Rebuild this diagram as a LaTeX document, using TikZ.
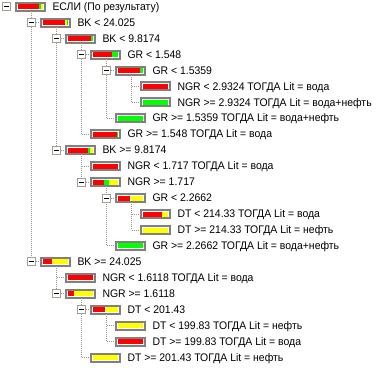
\documentclass[tikz,border=0pt]{standalone}
\usepackage{fontspec}
\setmainfont[FakeStretch=0.95]{Liberation Sans}
\definecolor{frame}{RGB}{128,128,128}
\definecolor{btnframe}{RGB}{160,160,152}
\definecolor{dots}{RGB}{150,150,150}
\definecolor{bred}{RGB}{255,0,0}
\definecolor{bgreen}{RGB}{0,255,0}
\definecolor{byellow}{RGB}{255,255,0}
\tikzset{
  barbox/.style={draw=frame, line width=2pt, fill=white, minimum width=29pt, minimum height=8pt, inner sep=0pt, outer sep=0pt},
  lbl/.style={anchor=base west, inner sep=0pt, outer sep=0pt, font=\fontsize{11}{13}\selectfont},
  btn/.style={draw=btnframe, line width=1pt, fill=white, minimum size=8pt, inner sep=0pt, outer sep=0pt},
  conn/.style={draw=dots, line width=1pt, dash pattern=on 1pt off 1pt},
  minusline/.style={draw=black, line width=1pt}
}
\newcommand\mkrow[5]{%
  \pgfmathsetmacro\ry{6.7+(#3-1)*15.95}%
  \pgfmathsetmacro\bxx{6.7+25*#2}%
  \pgfmathsetmacro\boxx{15+25*#2+15.5}%
  \pgfmathsetmacro\tx{52.5+25*#2}%
  \pgfmathsetmacro\ty{\ry+3.6}%
  \coordinate (c#1) at (\bxx,\ry);
  \node[barbox] (r#1) at (\boxx,\ry) {};
  \foreach \sc/\sa/\sb in {#5} {\fill[\sc] ([shift={(-12.5+\sa,-2.5)}]r#1.center) rectangle ([shift={(-12.5+\sb,2.5)}]r#1.center);}
  \node[lbl] (t#1) at (\tx,\ty) {#4};
}
\newcommand\mkbtn[1]{%
  \node[btn] (b#1) at (c#1) {};
  \draw[minusline] ([xshift=-2.5pt]b#1.center) -- ([xshift=2.5pt]b#1.center);
}
\newcommand\treevline[3]{\draw[conn] (r#1.south -| c#2) -- (c#3);}
\newcommand\hstub[1]{\draw[conn] (c#1) -- (r#1.west);}
\begin{document}
\begin{tikzpicture}[x=1pt,y=-1pt]
\useasboundingbox (0,0) rectangle (382,367);
\mkrow{1}{0}{1}{ЕСЛИ (По результату)}{bred/0/21,bgreen/21/23,byellow/23/25}
\mkrow{2}{1}{2}{BK < 24.025}{bred/0/22,byellow/22/23.5,bgreen/23.5/25}
\mkrow{3}{2}{3}{BK < 9.8174}{bred/0/23.3,bgreen/23.3/25}
\mkrow{4}{3}{4}{GR < 1.548}{bred/0/19,bgreen/19/25}
\mkrow{5}{4}{5}{GR < 1.5359}{bred/0/21.7,bgreen/21.7/25}
\mkrow{6}{5}{6}{NGR < 2.9324 ТОГДА Lit = вода}{bred/0/25}
\mkrow{7}{5}{7}{NGR >= 2.9324 ТОГДА Lit = вода+нефть}{bgreen/0/25}
\mkrow{8}{4}{8}{GR >= 1.5359 ТОГДА Lit = вода+нефть}{bgreen/0/25}
\mkrow{9}{3}{9}{GR >= 1.548 ТОГДА Lit = вода}{bred/0/24,bgreen/24/25}
\mkrow{10}{2}{10}{BK >= 9.8174}{bred/0/19.6,bgreen/19.6/22,byellow/22/25}
\mkrow{11}{3}{11}{NGR < 1.717 ТОГДА Lit = вода}{bred/0/25}
\mkrow{12}{3}{12}{NGR >= 1.717}{bred/0/10.7,bgreen/10.7/15.7,byellow/15.7/25}
\mkrow{13}{4}{13}{GR < 2.2662}{bred/0/11.7,byellow/13.3/25}
\mkrow{14}{5}{14}{DT < 214.33 ТОГДА Lit = вода}{bred/0/19.3,byellow/19.3/25}
\mkrow{15}{5}{15}{DT >= 214.33 ТОГДА Lit = нефть}{byellow/0/25}
\mkrow{16}{4}{16}{GR >= 2.2662 ТОГДА Lit = вода+нефть}{bgreen/0/25}
\mkrow{17}{1}{17}{BK >= 24.025}{bred/0/9,byellow/9/25}
\mkrow{18}{2}{18}{NGR < 1.6118 ТОГДА Lit = вода}{bred/0/25}
\mkrow{19}{2}{19}{NGR >= 1.6118}{bred/0/6,byellow/6/25}
\mkrow{20}{3}{20}{DT < 201.43}{bred/0/11.7,byellow/13.3/25}
\mkrow{21}{4}{21}{DT < 199.83 ТОГДА Lit = нефть}{byellow/0/25}
\mkrow{22}{4}{22}{DT >= 199.83 ТОГДА Lit = вода}{bred/0/25}
\mkrow{23}{3}{23}{DT >= 201.43 ТОГДА Lit = нефть}{byellow/0/25}
% connectors
\treevline{1}{2}{17}
\treevline{2}{3}{10}
\treevline{3}{4}{9}
\treevline{4}{5}{8}
\treevline{5}{6}{7}
\treevline{10}{11}{12}
\treevline{12}{13}{16}
\treevline{13}{14}{15}
\treevline{17}{18}{19}
\treevline{19}{20}{23}
\treevline{20}{21}{22}
\foreach \k in {2,...,23} {\hstub{\k}}
% buttons
\mkbtn{1}\mkbtn{2}\mkbtn{3}\mkbtn{4}\mkbtn{5}\mkbtn{10}\mkbtn{12}\mkbtn{13}\mkbtn{17}\mkbtn{19}\mkbtn{20}
\end{tikzpicture}
\end{document}
